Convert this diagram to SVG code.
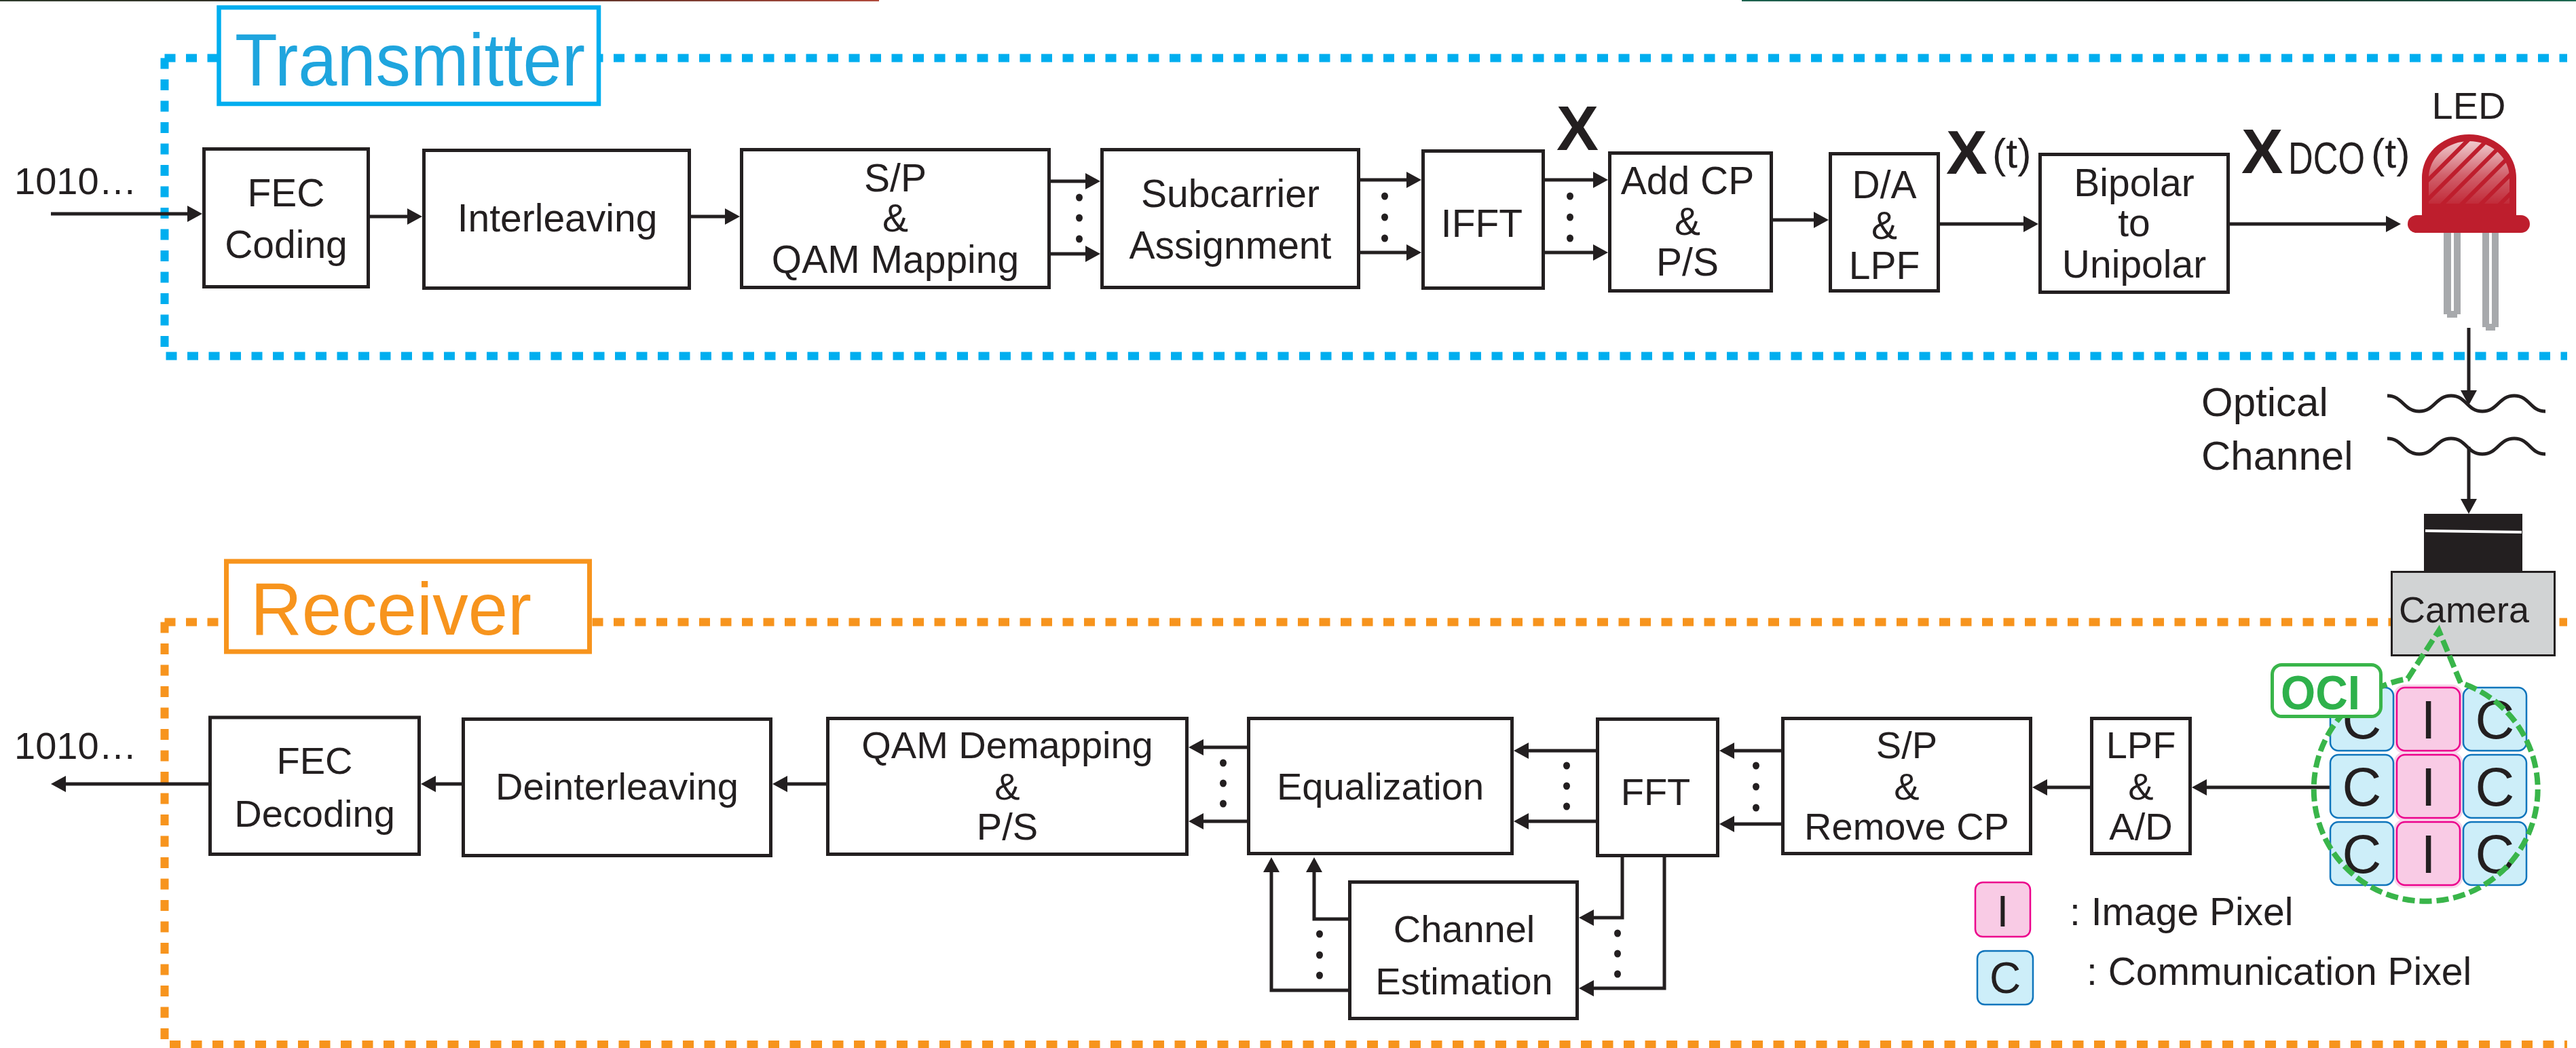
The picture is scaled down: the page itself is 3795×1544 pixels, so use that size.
<svg xmlns="http://www.w3.org/2000/svg" width="3795" height="1544" viewBox="0 0 3795 1544">
  <style>
    .box { fill: #ffffff; stroke: #231f20; stroke-width: 5; }
    .lbl { font-family: "Liberation Sans", Arial, Helvetica, sans-serif; fill: #231f20; text-anchor: middle; }
    .tx { font-size: 57px; }
    .rx { font-size: 56px; }
    .plain { font-family: "Liberation Sans", Arial, Helvetica, sans-serif; fill: #231f20; }
    .sym { font-family: "Liberation Sans", Arial, Helvetica, sans-serif; fill: #231f20; font-weight: bold; }
    .wire { fill: none; stroke: #231f20; stroke-width: 5; }
    .arr { marker-end: url(#ah); }
    .dot { fill: #231f20; }
    .tx-border { fill: none; stroke: #00aeef; stroke-width: 12; stroke-dasharray: 16 15.5; }
    .rx-border { fill: none; stroke: #f7941d; stroke-width: 12; stroke-dasharray: 16 15.5; }
    .cpix { fill: #cdeef9; stroke: #0f75bc; stroke-width: 2.5; }
    .ipix { fill: #f9cbe5; stroke: #ec008c; stroke-width: 2.5; }
    .ihalo { fill: none; stroke: #f8d4e9; stroke-width: 9; }
    .pixtxt { font-family: "Liberation Sans", Arial, Helvetica, sans-serif; fill: #231f20; text-anchor: middle; font-size: 80px; }
  </style>
  <defs>
    <marker id="ah" markerUnits="userSpaceOnUse" markerWidth="24" markerHeight="24" refX="12" refY="12" orient="auto" viewBox="0 0 24 24">
      <path d="M0,0 L22,12 L0,24 Z" fill="#231f20"/>
    </marker>
    <linearGradient id="edgeA" x1="0" x2="1" y1="0" y2="0">
      <stop offset="0" stop-color="#2e3b2c"/>
      <stop offset="0.5" stop-color="#3a2a22"/>
      <stop offset="1" stop-color="#b04a3c"/>
    </linearGradient>
    <linearGradient id="edgeB" x1="0" x2="1" y1="0" y2="0">
      <stop offset="0" stop-color="#1d6450"/>
      <stop offset="0.5" stop-color="#1a1a1a"/>
      <stop offset="1" stop-color="#1e6a52"/>
    </linearGradient>
    <pattern id="ledStripes" patternUnits="userSpaceOnUse" width="20" height="20" patternTransform="rotate(45)">
      <rect x="0" y="0" width="14" height="20" fill="#ffffff"/>
    </pattern>
    <linearGradient id="ledFade" x1="0" x2="0" y1="0" y2="1">
      <stop offset="0" stop-color="#ffffff" stop-opacity="0.8"/>
      <stop offset="0.55" stop-color="#ffffff" stop-opacity="0.3"/>
      <stop offset="1" stop-color="#ffffff" stop-opacity="0.05"/>
    </linearGradient>
    <mask id="ledMask" maskUnits="userSpaceOnUse" x="3570" y="200" width="140" height="110">
      <rect x="3570" y="205" width="135" height="97" fill="url(#ledFade)"/>
    </mask>
    <clipPath id="ledClip">
      <path d="M3578,300 V262 C3578,232 3605,208 3637.5,208 C3670,208 3697,232 3697,262 V300 Z"/>
    </clipPath>
  </defs>

  <!-- thin strip along the top edge -->
  <rect x="0" y="0" width="1295" height="2" fill="url(#edgeA)"/>
  <rect x="2566" y="0" width="1229" height="2" fill="url(#edgeB)"/>

  <!-- transmitter frame -->
  <g id="transmitter-frame">
    <path class="tx-border" d="M242.5,85.5 H3782"/>
    <path class="tx-border" d="M242.5,85.5 V524.5 H3782"/>
    <rect x="322.5" y="11" width="559.5" height="142" fill="#ffffff" stroke="#00aeef" stroke-width="6.5"/>
    <text x="346" y="126" font-family="Liberation Sans, Arial, sans-serif" font-size="110" fill="#1fa5de" textLength="516" lengthAdjust="spacingAndGlyphs">Transmitter</text>
  </g>

  <!-- receiver frame -->
  <g id="receiver-frame">
    <path class="rx-border" d="M242.5,916.5 H3782"/>
    <path class="rx-border" d="M242.5,916.5 V1539 H3782"/>
    <rect x="333.5" y="827" width="535" height="133" fill="#ffffff" stroke="#f7941d" stroke-width="7"/>
    <text x="369" y="935" font-family="Liberation Sans, Arial, sans-serif" font-size="110" fill="#f7941d" textLength="414" lengthAdjust="spacingAndGlyphs">Receiver</text>
  </g>

  <!-- connectors -->
  <g id="connectors">
    <!-- transmitter chain -->
    <path class="wire arr" d="M75,315 H288"/>
    <path class="wire arr" d="M545,319 H612"/>
    <path class="wire arr" d="M1018,319 H1080"/>
    <path class="wire arr" d="M1548,267 H1611"/>
    <path class="wire arr" d="M1548,374 H1611"/>
    <path class="wire arr" d="M2004,265 H2084"/>
    <path class="wire arr" d="M2004,372 H2084"/>
    <path class="wire arr" d="M2276,265 H2359"/>
    <path class="wire arr" d="M2276,372 H2359"/>
    <path class="wire arr" d="M2612,324 H2684"/>
    <path class="wire arr" d="M2858,330 H2993"/>
    <path class="wire arr" d="M3285,330 H3527"/>
    <!-- optical path -->
    <path class="wire arr" d="M3637,483 V587"/>
    <path class="wire arr" d="M3637,658 V747"/>
    <!-- receiver chain -->
    <path class="wire arr" d="M307,1155 H85"/>
    <path class="wire arr" d="M680,1155 H630"/>
    <path class="wire arr" d="M1217,1155 H1148"/>
    <path class="wire arr" d="M1837,1101 H1761"/>
    <path class="wire arr" d="M1837,1210 H1761"/>
    <path class="wire arr" d="M2351,1106 H2240"/>
    <path class="wire arr" d="M2351,1210 H2240"/>
    <path class="wire arr" d="M2624,1106 H2543"/>
    <path class="wire arr" d="M2624,1214 H2543"/>
    <path class="wire arr" d="M3079,1160 H3004"/>
    <path class="wire arr" d="M3476,1160 H3239"/>
    <path class="wire arr" d="M2390,1263 V1352 H2336"/>
    <path class="wire arr" d="M2452,1263 V1456 H2336"/>
    <path class="wire arr" d="M1986,1354 H1936 V1273"/>
    <path class="wire arr" d="M1986,1459 H1873 V1273"/>
    <!-- parallel-branch dots -->
    <ellipse class="dot" cx="1590" cy="291" rx="5" ry="5.5"/>
    <ellipse class="dot" cx="1590" cy="321" rx="5" ry="5.5"/>
    <ellipse class="dot" cx="1590" cy="352" rx="5" ry="5.5"/>
    <ellipse class="dot" cx="2040" cy="289" rx="5" ry="5.5"/>
    <ellipse class="dot" cx="2040" cy="320" rx="5" ry="5.5"/>
    <ellipse class="dot" cx="2040" cy="351" rx="5" ry="5.5"/>
    <ellipse class="dot" cx="2313" cy="289" rx="5" ry="5.5"/>
    <ellipse class="dot" cx="2313" cy="320" rx="5" ry="5.5"/>
    <ellipse class="dot" cx="2313" cy="351" rx="5" ry="5.5"/>
    <ellipse class="dot" cx="1802" cy="1124" rx="5" ry="5.5"/>
    <ellipse class="dot" cx="1802" cy="1154" rx="5" ry="5.5"/>
    <ellipse class="dot" cx="1802" cy="1184" rx="5" ry="5.5"/>
    <ellipse class="dot" cx="2308" cy="1128" rx="5" ry="5.5"/>
    <ellipse class="dot" cx="2308" cy="1158" rx="5" ry="5.5"/>
    <ellipse class="dot" cx="2308" cy="1188" rx="5" ry="5.5"/>
    <ellipse class="dot" cx="2587" cy="1128" rx="5" ry="5.5"/>
    <ellipse class="dot" cx="2587" cy="1159" rx="5" ry="5.5"/>
    <ellipse class="dot" cx="2587" cy="1190" rx="5" ry="5.5"/>
    <ellipse class="dot" cx="2383" cy="1375" rx="5" ry="5.5"/>
    <ellipse class="dot" cx="2383" cy="1405" rx="5" ry="5.5"/>
    <ellipse class="dot" cx="2383" cy="1435" rx="5" ry="5.5"/>
    <ellipse class="dot" cx="1944" cy="1376" rx="5" ry="5.5"/>
    <ellipse class="dot" cx="1944" cy="1407" rx="5" ry="5.5"/>
    <ellipse class="dot" cx="1944" cy="1437" rx="5" ry="5.5"/>
  </g>

  <!-- signal labels -->
  <g id="signal-labels">
    <text class="plain" x="21" y="286" font-size="56">1010…</text>
    <text class="plain" x="21" y="1118" font-size="56">1010…</text>
    <text class="sym" x="2293" y="221" font-size="93">X</text>
    <text class="sym" x="2867" y="256" font-size="91">X</text>
    <text class="plain" x="2935" y="247" font-size="61">(t)</text>
    <text class="sym" x="3302" y="255" font-size="92">X</text>
    <text class="plain" x="3371" y="256" font-size="67"><tspan textLength="113" lengthAdjust="spacingAndGlyphs">DCO</tspan><tspan x="3493" y="247" font-size="61">(t)</tspan></text>
  </g>

  <!-- transmitter blocks -->
  <g id="fec-coding">
    <rect class="box" x="300.5" y="219.5" width="242" height="203"/>
    <text class="lbl tx" x="421.5" y="304">FEC</text>
    <text class="lbl tx" x="421.5" y="380">Coding</text>
  </g>
  <g id="interleaving">
    <rect class="box" x="624.5" y="221.5" width="391" height="203"/>
    <text class="lbl tx" x="821" y="341">Interleaving</text>
  </g>
  <g id="sp-qam-mapping">
    <rect class="box" x="1092.5" y="220.5" width="453" height="203"/>
    <text class="lbl tx" x="1319" y="282">S/P</text>
    <text class="lbl tx" x="1319" y="341">&amp;</text>
    <text class="lbl tx" x="1319" y="402">QAM Mapping</text>
  </g>
  <g id="subcarrier-assignment">
    <rect class="box" x="1623.5" y="220.5" width="378" height="203"/>
    <text class="lbl tx" x="1812.5" y="305">Subcarrier</text>
    <text class="lbl tx" x="1812.5" y="381">Assignment</text>
  </g>
  <g id="ifft">
    <rect class="box" x="2096.5" y="222.5" width="177" height="202"/>
    <text class="lbl tx" x="2183" y="349">IFFT</text>
  </g>
  <g id="add-cp-ps">
    <rect class="box" x="2371.5" y="225.5" width="238" height="203"/>
    <text class="lbl tx" x="2486" y="286">Add CP</text>
    <text class="lbl tx" x="2486" y="346">&amp;</text>
    <text class="lbl tx" x="2486" y="406">P/S</text>
  </g>
  <g id="da-lpf">
    <rect class="box" x="2696.5" y="226.5" width="159" height="202"/>
    <text class="lbl tx" x="2776" y="292">D/A</text>
    <text class="lbl tx" x="2776" y="352">&amp;</text>
    <text class="lbl tx" x="2776" y="411">LPF</text>
  </g>
  <g id="bipolar-unipolar">
    <rect class="box" x="3005.5" y="227.5" width="277" height="203"/>
    <text class="lbl tx" x="3144" y="289">Bipolar</text>
    <text class="lbl tx" x="3144" y="348">to</text>
    <text class="lbl tx" x="3144" y="409">Unipolar</text>
  </g>

  <!-- LED -->
  <g id="led">
    <text class="lbl" x="3637" y="175" font-size="56">LED</text>
    <rect x="3600" y="343" width="25" height="120" fill="#a7a9ac"/>
    <rect x="3605" y="460" width="15" height="8" fill="#a7a9ac"/>
    <rect x="3611" y="343" width="4" height="115" fill="#ffffff"/>
    <rect x="3657" y="343" width="24" height="139" fill="#a7a9ac"/>
    <rect x="3662" y="478" width="14" height="9" fill="#a7a9ac"/>
    <rect x="3667" y="343" width="4" height="134" fill="#ffffff"/>
    <path d="M3568,320 V262 C3568,225 3600,198 3637.5,198 C3675,198 3707,225 3707,262 V320 Z" fill="#be1e2d"/>
    <rect x="3547" y="317" width="180" height="26" rx="13" fill="#be1e2d"/>
    <g clip-path="url(#ledClip)" mask="url(#ledMask)">
      <rect x="3570" y="200" width="140" height="110" fill="url(#ledStripes)"/>
    </g>
  </g>

  <!-- optical channel -->
  <g id="optical-channel">
    <text class="plain" x="3243" y="613" font-size="60">Optical</text>
    <text class="plain" x="3243" y="692" font-size="60">Channel</text>
    <path class="wire" d="M3517,583 C3540,583 3541,606 3564,606 C3587,606 3588,583 3611,583 C3634,583 3634,606 3657,606 C3680,606 3681,583 3704,583 C3727,583 3727,606 3750,606"/>
    <path class="wire" d="M3517,646 C3540,646 3541,669 3564,669 C3587,669 3588,646 3611,646 C3634,646 3634,669 3657,669 C3680,669 3681,646 3704,646 C3727,646 3727,669 3750,669"/>
  </g>

  <!-- camera -->
  <g id="camera">
    <rect x="3571" y="757" width="145" height="85" fill="#231f20"/>
    <path d="M3573,782 L3715,784" stroke="#ffffff" stroke-width="4"/>
    <rect x="3523.5" y="842.5" width="240" height="123" fill="#d1d3d4" stroke="#231f20" stroke-width="3"/>
    <text class="plain" x="3534" y="917" font-size="54">Camera</text>
  </g>

  <!-- receiver blocks -->
  <g id="fec-decoding">
    <rect class="box" x="309.5" y="1057" width="308" height="201.5"/>
    <text class="lbl rx" x="463.5" y="1140">FEC</text>
    <text class="lbl rx" x="463.5" y="1218">Decoding</text>
  </g>
  <g id="deinterleaving">
    <rect class="box" x="682.5" y="1059.5" width="453" height="201"/>
    <text class="lbl rx" x="909" y="1178">Deinterleaving</text>
  </g>
  <g id="qam-demapping-ps">
    <rect class="box" x="1219.5" y="1058.5" width="529" height="200"/>
    <text class="lbl rx" x="1484" y="1117">QAM Demapping</text>
    <text class="lbl rx" x="1484" y="1178">&amp;</text>
    <text class="lbl rx" x="1484" y="1237">P/S</text>
  </g>
  <g id="equalization">
    <rect class="box" x="1839.5" y="1058.5" width="388" height="199"/>
    <text class="lbl rx" x="2033.5" y="1178">Equalization</text>
  </g>
  <g id="fft">
    <rect class="box" x="2353.5" y="1059.5" width="177" height="201"/>
    <text class="lbl rx" x="2439" y="1186">FFT</text>
  </g>
  <g id="channel-estimation">
    <rect class="box" x="1988.5" y="1299.5" width="335" height="201"/>
    <text class="lbl rx" x="2157" y="1388">Channel</text>
    <text class="lbl rx" x="2157" y="1465">Estimation</text>
  </g>
  <g id="sp-remove-cp">
    <rect class="box" x="2626.5" y="1058.5" width="365" height="199"/>
    <text class="lbl rx" x="2809" y="1117">S/P</text>
    <text class="lbl rx" x="2809" y="1178">&amp;</text>
    <text class="lbl rx" x="2809" y="1237">Remove CP</text>
  </g>
  <g id="lpf-ad">
    <rect class="box" x="3081.5" y="1058.5" width="145" height="199"/>
    <text class="lbl rx" x="3154" y="1117">LPF</text>
    <text class="lbl rx" x="3154" y="1178">&amp;</text>
    <text class="lbl rx" x="3154" y="1237">A/D</text>
  </g>

  <!-- image sensor pixel grid -->
  <g id="pixel-grid">
    <rect class="ihalo" x="3531" y="1013" width="93" height="93" rx="12"/>
    <rect class="ihalo" x="3531" y="1112" width="93" height="93" rx="12"/>
    <rect class="ihalo" x="3531" y="1211" width="93" height="93" rx="12"/>
    <rect class="cpix" x="3433" y="1013" width="93" height="93" rx="12"/>
    <rect class="ipix" x="3531" y="1013" width="93" height="93" rx="12"/>
    <rect class="cpix" x="3629" y="1013" width="93" height="93" rx="12"/>
    <rect class="cpix" x="3433" y="1112" width="93" height="93" rx="12"/>
    <rect class="ipix" x="3531" y="1112" width="93" height="93" rx="12"/>
    <rect class="cpix" x="3629" y="1112" width="93" height="93" rx="12"/>
    <rect class="cpix" x="3433" y="1211" width="93" height="93" rx="12"/>
    <rect class="ipix" x="3531" y="1211" width="93" height="93" rx="12"/>
    <rect class="cpix" x="3629" y="1211" width="93" height="93" rx="12"/>
    <text class="pixtxt" x="3479.5" y="1088">C</text>
    <text class="pixtxt" x="3577.5" y="1088">I</text>
    <text class="pixtxt" x="3675.5" y="1088">C</text>
    <text class="pixtxt" x="3479.5" y="1187">C</text>
    <text class="pixtxt" x="3577.5" y="1187">I</text>
    <text class="pixtxt" x="3675.5" y="1187">C</text>
    <text class="pixtxt" x="3479.5" y="1286">C</text>
    <text class="pixtxt" x="3577.5" y="1286">I</text>
    <text class="pixtxt" x="3675.5" y="1286">C</text>
  </g>

  <!-- OCI callout -->
  <g id="oci-callout">
    <path d="M3625,1006 L3593,929 L3547,1000 A165,165 0 1 0 3625,1006" fill="none" stroke="#39b54a" stroke-width="8" stroke-dasharray="18 7"/>
    <rect x="3347.5" y="979.5" width="160" height="76" rx="14" fill="#ffffff" stroke="#39b54a" stroke-width="5"/>
    <text x="3360" y="1045" font-family="Liberation Sans, Arial, sans-serif" font-size="70" font-weight="bold" fill="#2eb14b" textLength="117" lengthAdjust="spacingAndGlyphs">OCI</text>
  </g>

  <!-- legend -->
  <g id="legend">
    <rect class="ipix" x="2910" y="1300" width="81" height="80" rx="11"/>
    <text class="lbl" x="2950.5" y="1365" font-size="64">I</text>
    <text class="plain" x="3049" y="1363" font-size="57">: Image Pixel</text>
    <rect class="cpix" x="2913" y="1401" width="82" height="79" rx="11"/>
    <text class="lbl" x="2954" y="1463" font-size="64">C</text>
    <text class="plain" x="3074" y="1451" font-size="57">: Communication Pixel</text>
  </g>
</svg>
